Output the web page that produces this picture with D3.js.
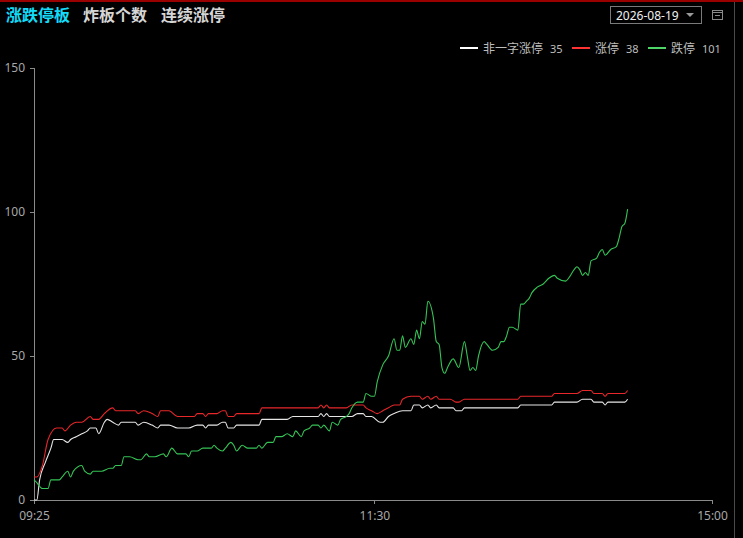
<!DOCTYPE html>
<html lang="zh">
<head>
<meta charset="UTF-8">
<title>涨跌停板</title>
<script src="https://d3js.org/d3.v7.min.js"></script>
<style>
    body { margin: 0; padding: 0; background: #000; overflow: hidden; }
    svg { display: block; }
    .axis path, .axis line { stroke: #8a8a8a; shape-rendering: crispEdges; }
    .axis text { fill: #a8a8a8; font-family: 'Noto Sans', 'DejaVu Sans', sans-serif; font-size: 12px; }
</style>
</head>
<body>
<svg id="chart" width="743" height="538"></svg>
<script>
    // minute index (0 = 09:25, 121 = 11:30, 241 = 15:00) and count
    const whitePts = [[0,0],[1,0],[2,7],[4,13],[6,18],[7,21],[10,21],[12,20],[13,21],[15,22],[17,23],[19,24],[20,25],[22,25],[23,23],
        [25,27],[26,28],[28,27],[30,26],[31,27],[36,27],[37,26],[39,27],[42,26],[44,25],[45,26],[48,26],[51,25],[55,25],[58,26],
        [60,26],[61,25],[62,26],[65,26],[67,27],[68,27],[69,25],[71,25],[72,26],[80,26],[81,28],[90,28],[92,29],[101,29],[102,30],
        [103,29],[104,30],[105,29],[111,29],[113,29],[115,30],[117,30],[118,29],[120,29],[123,27],[124,27],[126,29],[128,30],[131,31],[134,31],
        [135,33],[137,33],[138,32],[140,33],[141,32],[143,33],[144,32],[149,32],[150,31],[152,31],[153,32],[162,32],[172,32],[173,33],[184,33],
        [185,34],[193,34],[195,35],[198,35],[199,34],[202,34],[203,33],[204,34],[210,34],[211,35]];

    const redPts = [[0,8],[1,8],[3,12],[5,21],[8,25],[10,25],[11,24],[13,26],[15,27],[17,27],[20,29],[21,28],[23,28],[25,30],[28,32],
        [29,31],[31,31],[36,31],[37,30],[39,31],[42,30],[44,29],[45,31],[48,31],[51,29],[55,29],[57,29],[58,30],[60,30],[61,29],
        [62,30],[65,30],[67,31],[68,31],[69,29],[71,29],[72,30],[80,30],[81,32],[101,32],[102,33],[103,32],[104,33],[105,32],[111,32],
        [113,33],[117,33],[118,32],[120,31],[122,30],[124,31],[126,32],[128,33],[130,33],[131,35],[134,36],[137,36],[138,35],[140,36],[141,35],
        [143,36],[144,35],[148,35],[150,34],[151,34],[153,35],[162,35],[172,35],[173,36],[184,36],[185,37],[193,37],[195,38],[198,38],[199,37],
        [202,37],[203,36],[204,37],[210,37],[211,38]];

    const greenPts = [[0,7],[1,6],[3,4],[5,4],[6,7],[9,7],[10,8],[12,10],[13,8],[14,10],[17,12],[18,10],[20,9],[21,10],[23,10],
        [24,10],[27,11],[28,11],[29,12],[31,12],[32,15],[34,15],[37,14],[38,14],[40,16],[41,15],[43,15],[46,16],[47,15],[49,18],
        [51,16],[54,16],[55,15],[56,17],[58,17],[60,18],[63,18],[64,19],[65,18],[67,17],[68,18],[70,20],[71,19],[72,17],[74,19],
        [76,18],[79,18],[80,19],[81,18],[83,20],[85,20],[86,22],[88,22],[90,23],[92,22],[93,24],[95,22],[96,24],[98,25],[99,26],
        [101,26],[102,25],[103,26],[105,24],[106,27],[108,26],[109,28],[111,29],[112,30],[113,32],[115,34],[117,34],[118,37],[120,36],[121,36],
        [122,41],[124,47],[126,50],[128,56],[129,52],[130,52],[131,57],[132,53],[134,56],[135,54],[136,59],[137,56],[138,62],[139,61],[140,69],
        [142,63],[143,55],[144,54],[145,46],[146,44],[147,46],[149,49],[151,46],[153,55],[154,50],[155,45],[156,46],[157,45],[158,50],[160,55],
        [161,54],[163,52],[165,53],[166,55],[167,55],[168,57],[169,60],[170,60],[172,59],[173,68],[174,68],[175,69],[176,70],[177,72],[179,74],
        [181,75],[183,77],[185,78],[186,77],[189,76],[190,77],[192,80],[193,81],[194,80],[195,78],[196,79],[197,78],[198,83],[200,84],[201,86],
        [202,87],[203,85],[205,87],[207,88],[208,91],[209,95],[210,96],[211,101]];

    const seriesNames = ["非一字涨停", "涨停", "跌停"];
    const seriesLast = [35, 38, 101];
    const seriesColors = ["#e6e6e6", "#e8272b", "#35c456"];
    const legendColors = ["#ffffff", "#ff3333", "#4fd468"];

    const xTickIdx = [0, 121, 241];
    const xTickLabels = ["09:25", "11:30", "15:00"];
    const yTicks = [0, 50, 100, 150];

    const tabs = ["涨跌停板", "炸板个数", "连续涨停"];
    const dateText = "2026-08-19";

    const svg = d3.select("#chart");

    // frame lines
    svg.append("rect").attr("x", 0).attr("y", 0).attr("width", 743).attr("height", 2).attr("fill", "#9a0000");
    svg.append("line").attr("x1", 734.5).attr("x2", 734.5).attr("y1", 2).attr("y2", 538)
        .attr("stroke", "#4a4a4a").attr("stroke-width", 1);

    // title tabs
    const tabX = [6, 83, 161];
    tabs.forEach((t, i) => {
        svg.append("text")
            .attr("x", tabX[i]).attr("y", 21)
            .attr("fill", i === 0 ? "#12dcf8" : "#d6d6d6")
            .attr("font-family", "'Noto Sans CJK SC', sans-serif")
            .attr("font-size", 16)
            .attr("font-weight", "bold")
            .text(t);
    });

    // date picker
    svg.append("rect").attr("x", 610.5).attr("y", 6.5).attr("width", 91).attr("height", 17)
        .attr("fill", "none").attr("stroke", "#7a7a7a");
    svg.append("text").attr("x", 616).attr("y", 19.5).attr("fill", "#f0f0f0")
        .attr("font-family", "'Noto Sans', sans-serif").attr("font-size", 12).text(dateText);
    svg.append("path").attr("d", "M686,13 L694,13 L690,17 Z").attr("fill", "#9a9a9a");
    // calendar icon
    svg.append("rect").attr("x", 712.5).attr("y", 10.5).attr("width", 10).attr("height", 9)
        .attr("fill", "none").attr("stroke", "#8a8a8a");
    svg.append("line").attr("x1", 712).attr("x2", 723).attr("y1", 12.5).attr("y2", 12.5).attr("stroke", "#8a8a8a");
    svg.append("line").attr("x1", 715).attr("x2", 720).attr("y1", 15.5).attr("y2", 15.5).attr("stroke", "#8a8a8a");

    // legend
    const legX = [460, 572, 648];
    seriesNames.forEach((n, i) => {
        const g = svg.append("g").attr("transform", `translate(${legX[i]},48)`);
        g.append("line").attr("x1", 0).attr("x2", 18).attr("y1", 0).attr("y2", 0)
            .attr("stroke", legendColors[i]).attr("stroke-width", 2);
        g.append("text").attr("x", 23).attr("y", 4.5).attr("fill", "#bdbdbd")
            .attr("font-family", "'Noto Sans CJK SC', sans-serif").attr("font-size", 12)
            .text(n)
            .append("tspan").attr("dx", 7).attr("font-family", "'Noto Sans', sans-serif").attr("font-size", 11).text(seriesLast[i]);
    });

    // scales
    const x = d3.scaleLinear().domain([0, 241]).range([34, 712]);
    const y = d3.scaleLinear().domain([0, 150]).range([500, 68]);

    svg.append("g").attr("class", "axis")
        .attr("transform", "translate(34,0)")
        .call(d3.axisLeft(y).tickValues(yTicks).tickSize(4).tickPadding(5))
        .call(g => g.select(".domain").attr("d", "M0.5,68V500.5"))
        .call(g => g.selectAll(".tick text").attr("dy", "0.3em"));

    svg.append("g").attr("class", "axis")
        .attr("transform", "translate(0,500)")
        .call(d3.axisBottom(x).tickValues(xTickIdx).tickSize(4).tickPadding(7)
            .tickFormat((d, i) => xTickLabels[i]))
        .call(g => g.select(".domain").attr("d", "M34,0.5H712"));

    // lines
    const line = d3.line()
        .x(d => x(d[0]))
        .y(d => y(d[1]))
        .curve(d3.curveMonotoneX);

    [whitePts, redPts, greenPts].forEach((pts, i) => {
        svg.append("path")
            .datum(pts)
            .attr("fill", "none")
            .attr("stroke", seriesColors[i])
            .attr("stroke-width", 1.1)
            .attr("d", line);
    });
</script>
</body>
</html>
